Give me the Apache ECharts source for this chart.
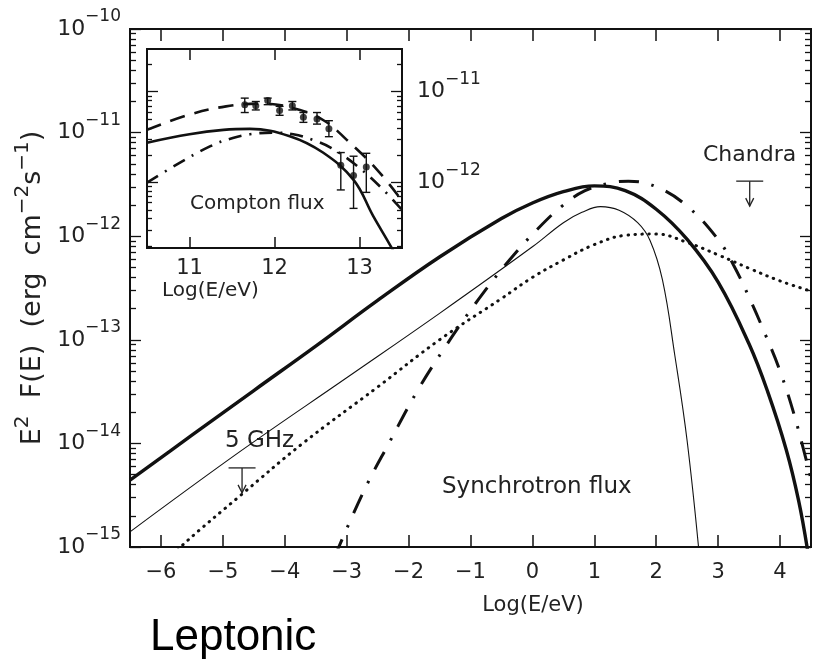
<!DOCTYPE html>
<html><head><meta charset="utf-8">
<script src="https://cdn.jsdelivr.net/npm/echarts@6/dist/echarts.min.js"></script>
<style>html,body{margin:0;padding:0;background:#fff}#c{width:818px;height:661px}</style>
</head><body><div id="c"></div>
<script>
// ---------- Main panel: x = Log(E/eV), y = E^2 F(E) [erg cm^-2 s^-1] ----------
const thickX = [-6.5, -5.5, -4.5, -3.5, -2.5, -1.5, -0.5, 0.0, 0.5, 1.0, 1.5, 2.0, 2.5, 3.0, 3.5, 3.8, 4.1, 4.3, 4.45];
const thickY = [4.42e-15, 1.2e-14, 3.24e-14, 8.7e-14, 2.4e-13, 6.3e-13, 1.48e-12, 2.09e-12, 2.69e-12, 3.06e-12, 2.75e-12, 1.82e-12, 9.3e-13, 3.6e-13, 9.1e-14, 3.16e-14, 8.7e-15, 2.8e-15, 8.9e-16];

const thinX = [-6.5, -4.68, -3.0, -1.5, 0.0, 0.5, 0.8, 1.1, 1.4, 1.7, 1.9, 2.1, 2.3, 2.5, 2.7];
const thinY = [1.4e-15, 8.7e-15, 4.3e-14, 1.8e-13, 7.9e-13, 1.35e-12, 1.7e-12, 1.93e-12, 1.78e-12, 1.35e-12, 9.1e-13, 3.8e-13, 7.1e-14, 1.05e-14, 7.9e-16];

const dotX = [-5.8, -5.61, -4.7, -3.71, -2.5, -1.5, -0.5, 0.0, 0.5, 1.0, 1.5, 2.0, 2.5, 3.0, 3.5, 4.0, 4.5];
const dotY = [8.3e-16, 1.1e-15, 3.2e-15, 1.0e-14, 3.5e-14, 1.0e-13, 2.5e-13, 4.0e-13, 5.9e-13, 8.3e-13, 1.02e-12, 1.05e-12, 8.7e-13, 6.6e-13, 4.9e-13, 3.7e-13, 2.95e-13];

const ddX = [-3.2, -2.72, -2.3, -1.86, -1.41, -0.92, -0.37, 0.1, 0.5, 0.85, 1.23, 1.55, 2.0, 2.5, 3.0, 3.25, 3.5, 3.75, 4.0, 4.25, 4.5];
const ddY = [7.9e-16, 3.5e-15, 1.05e-14, 3.2e-14, 8.5e-14, 2.24e-13, 5.9e-13, 1.2e-12, 2.0e-12, 2.75e-12, 3.24e-12, 3.4e-12, 3.0e-12, 1.95e-12, 9.3e-13, 5.25e-13, 2.57e-13, 1.17e-13, 5.0e-14, 1.7e-14, 4.5e-15];

// upper limits: [logE, flux]
const limitX = [-4.69, 3.51];
const limitY = [5.8e-15, 3.4e-12];

// ---------- Inset: Compton flux ----------
const inSolidX = [10.5, 11.0, 11.4, 11.71, 12.18, 12.57, 12.93, 13.16, 13.38, 13.45];
const inSolidY = [2.75e-12, 3.4e-12, 3.8e-12, 3.9e-12, 3.24e-12, 2.14e-12, 1.07e-12, 4.3e-13, 1.9e-13, 1.4e-13];

const inDashX = [10.5, 11.0, 11.43, 11.85, 12.3, 12.6, 12.85, 13.2, 13.5];
const inDashY = [3.8e-12, 5.6e-12, 6.9e-12, 7.4e-12, 6.3e-12, 4.7e-12, 2.95e-12, 1.41e-12, 6.3e-13];

const inDDX = [10.5, 10.81, 11.24, 11.51, 11.71, 11.98, 12.22, 12.45, 12.67, 12.95, 13.25, 13.5];
const inDDY = [1.0e-12, 1.5e-12, 2.5e-12, 3.1e-12, 3.4e-12, 3.55e-12, 3.4e-12, 2.95e-12, 2.4e-12, 1.58e-12, 8.9e-13, 5.0e-13];

const ptX  = [11.65, 11.78, 11.92, 12.06, 12.21, 12.34, 12.50, 12.64, 12.78, 12.93, 13.08];
const ptY  = [7.2e-12, 7.0e-12, 8.0e-12, 6.2e-12, 7.0e-12, 5.25e-12, 5.0e-12, 3.9e-12, 1.55e-12, 1.2e-12, 1.48e-12];
const ptLo = [5.9e-12, 6.3e-12, 7.2e-12, 5.5e-12, 6.3e-12, 4.6e-12, 4.4e-12, 3.2e-12, 8.3e-13, 5.2e-13, 7.8e-13];
const ptHi = [8.5e-12, 7.8e-12, 8.5e-12, 6.9e-12, 7.8e-12, 5.9e-12, 5.9e-12, 4.8e-12, 2.14e-12, 1.95e-12, 2.1e-12];

// ---------- ticks ----------
const mainXTicks = [-6, -5, -4, -3, -2, -1, 0, 1, 2, 3, 4];
const mainYDecades = [-15, -14, -13, -12, -11, -10];
const inXTicks = [11, 12, 13];
const inYDecades = [-12, -11];

const L = Math.log10;
const pairs = (xs, ys) => xs.map((x, i) => [x, L(ys[i])]);
function minorTicks(lo, hi) {
  const out = [];
  for (let n = Math.floor(lo) - 1; n <= Math.ceil(hi); n++)
    for (let k = 2; k <= 9; k++) { const v = n + L(k); if (v > lo + 1e-6 && v < hi - 1e-6) out.push(v); }
  return out;
}
const INK = '#111';
const FONT = 'DejaVu Sans';
const fmtX = v => (v < 0 ? '\u2212' + (-v) : '' + v);
const fmtPow = v => '{b|10}{s|\u2212' + Math.abs(Math.round(v)) + '}';
const powRich = {
  b: {fontSize: 22, color: '#222', fontFamily: FONT},
  s: {fontSize: 17, color: '#222', fontFamily: FONT, padding: [0, 0, 24, 0]}
};

const MAIN_Y = [-15, -10], MAIN_X = [-6.5, 4.5];
const IN_Y = [-12.72, -10.53], IN_X = [10.5, 13.5];

function xAxis(grid, pos, range, ticks, labels, len, labelMargin) {
  return {
    type: 'value', gridIndex: grid, position: pos, min: range[0], max: range[1],
    axisLine: {show: true, onZero: false, lineStyle: {color: INK, width: 2}},
    axisTick: {show: true, inside: true, length: len, customValues: ticks, lineStyle: {color: INK, width: 1.5}},
    axisLabel: labels ? {show: true, customValues: ticks, formatter: fmtX, margin: labelMargin,
      fontSize: 21, color: '#222', fontFamily: FONT} : {show: false},
    splitLine: {show: false}
  };
}
function yAxis(grid, pos, range, ticks, len, label) {
  const a = {
    type: 'value', gridIndex: grid, position: pos, min: range[0], max: range[1],
    axisLine: {show: true, onZero: false, lineStyle: {color: INK, width: 2}},
    axisTick: {show: true, inside: true, length: len, customValues: ticks, lineStyle: {color: INK, width: 1.3}},
    axisLabel: {show: false},
    splitLine: {show: false}
  };
  if (label) a.axisLabel = Object.assign({show: true, customValues: ticks, formatter: fmtPow, rich: powRich}, label);
  return a;
}

const chart = echarts.init(document.getElementById('c'), null, {renderer: 'canvas'});

const yNameMain = 'E{s|2}  F(E)  (erg  cm{s|\u22122}s{s|\u22121})';
const SM = 0.4;

const option = {
  animation: false,
  backgroundColor: '#fff',
  textStyle: {fontFamily: FONT},
  grid: [
    {left: 130, top: 29, right: 7, bottom: 114},
    {left: 147, top: 49, width: 255, height: 199, show: true, backgroundColor: '#fff', borderWidth: 0}
  ],
  xAxis: [
    xAxis(0, 'bottom', MAIN_X, mainXTicks, true, 12, 15),
    xAxis(0, 'top', MAIN_X, mainXTicks, false, 12),
    xAxis(1, 'bottom', IN_X, inXTicks, true, 11, 10),
    xAxis(1, 'top', IN_X, inXTicks, false, 11)
  ],
  yAxis: [
    Object.assign(yAxis(0, 'left', MAIN_Y, mainYDecades, 11, {margin: 9}), {
      name: yNameMain, nameLocation: 'middle', nameRotate: 90, nameGap: 78,
      nameTextStyle: {fontSize: 27, color: '#222', fontFamily: FONT,
        rich: {s: {fontSize: 20, color: '#222', fontFamily: FONT, padding: [0, 0, 19, 0]}}}
    }),
    yAxis(0, 'left', MAIN_Y, minorTicks(MAIN_Y[0], MAIN_Y[1]), 6),
    yAxis(0, 'right', MAIN_Y, mainYDecades, 11),
    yAxis(0, 'right', MAIN_Y, minorTicks(MAIN_Y[0], MAIN_Y[1]), 6),
    yAxis(1, 'left', IN_Y, inYDecades, 11),
    yAxis(1, 'left', IN_Y, minorTicks(IN_Y[0], IN_Y[1]), 5),
    yAxis(1, 'right', IN_Y, inYDecades, 11, {margin: 15}),
    yAxis(1, 'right', IN_Y, minorTicks(IN_Y[0], IN_Y[1]), 5)
  ],
  series: [
    {type: 'line', xAxisIndex: 0, yAxisIndex: 0, data: pairs(thickX, thickY), showSymbol: false,
      smooth: SM, lineStyle: {color: INK, width: 3.4}},
    {type: 'line', xAxisIndex: 0, yAxisIndex: 0, data: pairs(thinX, thinY), showSymbol: false,
      smooth: SM, lineStyle: {color: INK, width: 1.1}},
    {type: 'line', xAxisIndex: 0, yAxisIndex: 0, data: pairs(dotX, dotY), showSymbol: false,
      smooth: SM, lineStyle: {color: INK, width: 3, type: [0.5, 6.5], cap: 'round'}},
    {type: 'line', xAxisIndex: 0, yAxisIndex: 0, data: pairs(ddX, ddY), showSymbol: false,
      smooth: SM, lineStyle: {color: INK, width: 3, type: [20, 13, 2.5, 13]}},
    {type: 'custom', xAxisIndex: 0, yAxisIndex: 0, data: pairs(limitX, limitY),
      renderItem: (params, api) => {
        const p = api.coord([api.value(0), api.value(1)]);
        const hw = 13.5, len = 25, st = {stroke: '#222', lineWidth: 1.3, fill: null};
        return {type: 'group', children: [
          {type: 'line', shape: {x1: p[0] - hw, y1: p[1], x2: p[0] + hw, y2: p[1]}, style: st},
          {type: 'line', shape: {x1: p[0], y1: p[1], x2: p[0], y2: p[1] + len}, style: st},
          {type: 'polyline', shape: {points: [[p[0] - 4, p[1] + len - 8], [p[0], p[1] + len], [p[0] + 4, p[1] + len - 8]]}, style: st}
        ]};
      }},
    // inset
    {type: 'line', xAxisIndex: 2, yAxisIndex: 4, data: pairs(inSolidX, inSolidY), showSymbol: false,
      smooth: SM, lineStyle: {color: INK, width: 2.6}},
    {type: 'line', xAxisIndex: 2, yAxisIndex: 4, data: pairs(inDashX, inDashY), showSymbol: false,
      smooth: SM, lineStyle: {color: INK, width: 2.6, type: [15, 10]}},
    {type: 'line', xAxisIndex: 2, yAxisIndex: 4, data: pairs(inDDX, inDDY), showSymbol: false,
      smooth: SM, lineStyle: {color: INK, width: 2.6, type: [13, 8, 2, 8]}},
    {type: 'custom', xAxisIndex: 2, yAxisIndex: 4,
      data: ptX.map((x, i) => [x, L(ptLo[i]), L(ptHi[i])]),
      encode: {x: 0, y: [1, 2]},
      renderItem: (params, api) => {
        const lo = api.coord([api.value(0), api.value(1)]);
        const hi = api.coord([api.value(0), api.value(2)]);
        const w = 4, st = {stroke: INK, lineWidth: 1.4};
        return {type: 'group', children: [
          {type: 'line', shape: {x1: lo[0], y1: lo[1], x2: hi[0], y2: hi[1]}, style: st},
          {type: 'line', shape: {x1: lo[0] - w, y1: lo[1], x2: lo[0] + w, y2: lo[1]}, style: st},
          {type: 'line', shape: {x1: hi[0] - w, y1: hi[1], x2: hi[0] + w, y2: hi[1]}, style: st}
        ]};
      }},
    {type: 'scatter', xAxisIndex: 2, yAxisIndex: 4, data: pairs(ptX, ptY), symbol: 'circle', symbolSize: 7,
      itemStyle: {color: INK}}
  ],
  graphic: [
    {type: 'text', x: 703, y: 155, style: {text: 'Chandra', font: '22px "DejaVu Sans"', fill: '#222', align: 'left', verticalAlign: 'middle'}},
    {type: 'text', x: 225, y: 441, style: {text: '5 GHz', font: '23px "DejaVu Sans"', fill: '#222', align: 'left', verticalAlign: 'middle'}},
    {type: 'text', x: 442, y: 487, style: {text: 'Synchrotron flux', font: '23px "DejaVu Sans"', fill: '#222', align: 'left', verticalAlign: 'middle'}},
    {type: 'text', x: 190, y: 204, style: {text: 'Compton flux', font: '20px "DejaVu Sans"', fill: '#222', align: 'left', verticalAlign: 'middle'}},
    {type: 'text', x: 162, y: 291, style: {text: 'Log(E/eV)', font: '20px "DejaVu Sans"', fill: '#222', align: 'left', verticalAlign: 'middle'}},
    {type: 'text', x: 533, y: 606, style: {text: 'Log(E/eV)', font: '21px "DejaVu Sans"', fill: '#222', align: 'center', verticalAlign: 'middle'}},
    {type: 'text', x: 150, y: 638, style: {text: 'Leptonic', font: '44px "Liberation Sans"', fill: '#000', align: 'left', verticalAlign: 'middle'}}
  ]
};
chart.setOption(option);
</script>
</body></html>
